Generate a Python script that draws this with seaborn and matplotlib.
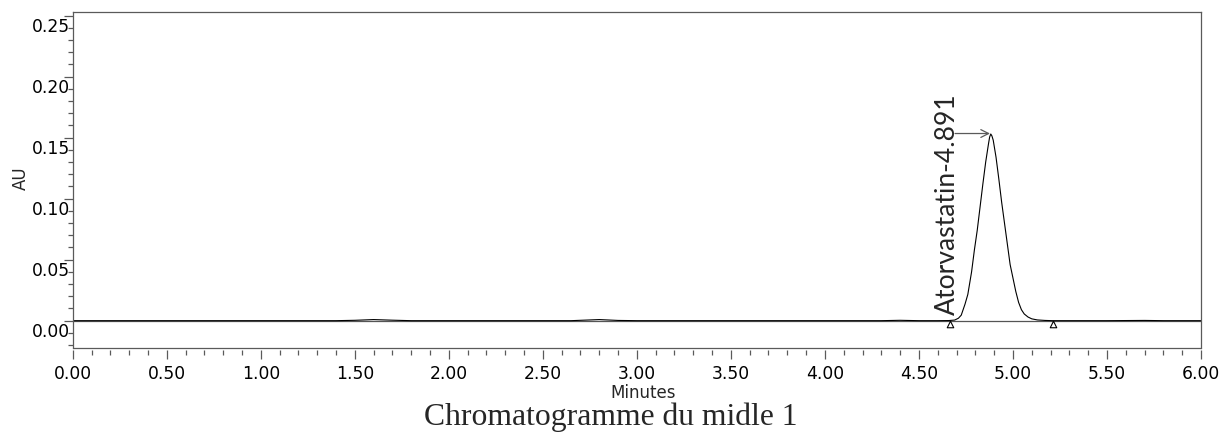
import numpy as np
import pandas as pd
import matplotlib
matplotlib.use("Agg")
import matplotlib.pyplot as plt
import matplotlib.transforms as mtransforms
from matplotlib.ticker import MultipleLocator, FormatStrFormatter
import seaborn as sns

# ---------------- data ----------------
time_min = [0.00, 1.40, 1.50, 1.60, 1.70, 1.80, 2.65, 2.75, 2.80, 2.90, 3.00,
            4.30, 4.40, 4.50, 4.60, 4.66, 4.69, 4.71, 4.725, 4.745, 4.76, 4.78,
            4.795, 4.81, 4.825, 4.84, 4.855, 4.87, 4.876, 4.882, 4.888, 4.895,
            4.91, 4.925, 4.94, 4.955, 4.97, 4.985, 5.00, 5.015, 5.03, 5.045,
            5.06, 5.08, 5.10, 5.13, 5.17, 5.21, 5.50, 5.70, 5.80, 5.90, 6.00]
absorbance = [0.0000, 0.0000, 0.0003, 0.0009, 0.0004, 0.0000, 0.0000, 0.0006,
              0.0009, 0.0002, 0.0000, 0.0000, 0.0003, 0.0000, 0.0000, 0.0001,
              0.0005, 0.0020, 0.0045, 0.0135, 0.0215, 0.0400, 0.0580, 0.0740,
              0.0930, 0.1120, 0.1300, 0.1450, 0.1505, 0.1530, 0.1515, 0.1480,
              0.1340, 0.1160, 0.0970, 0.0800, 0.0630, 0.0460, 0.0350, 0.0240,
              0.0150, 0.0090, 0.0055, 0.0030, 0.0015, 0.0006, 0.0002, 0.0000,
              0.0000, 0.0002, 0.0000, 0.0000, 0.0000]

peak_name = "Atorvastatin"
peak_rt = 4.891
peak_height = 0.1534
peak_start_end_min = [4.665, 5.215]
peak_start_end_au = [-0.0027, -0.0027]

x_label = "Minutes"
y_label = "AU"
title = "Chromatogramme du midle 1"

df = pd.DataFrame({"t": time_min, "au": absorbance})
marks = pd.DataFrame({"t": peak_start_end_min, "au": peak_start_end_au})

# ---------------- figure ----------------
sns.set_style("white")
plt.rcParams["font.family"] = ["DejaVu Sans"]
W, H, DPI = 1226, 433, 100
fig = plt.figure(figsize=(W / DPI, H / DPI), dpi=DPI)
ax = fig.add_axes([72.7 / W, 1 - 348 / H, (1201 - 72.7) / W, (348 - 12) / H])

frame_col = "#5a5a5a"
ax.axhline(0, color="#555555", lw=0.9, zorder=1)
sns.lineplot(data=df, x="t", y="au", color="black", lw=0.8, ax=ax, zorder=2)
sns.scatterplot(data=marks, x="t", y="au", marker="^", s=22, facecolor="white",
                edgecolor="black", linewidth=0.8, ax=ax, zorder=3, clip_on=False)

ax.set_xlim(0, 6)
ax.set_ylim(-0.0224, 0.253)

# ticks
ax.xaxis.set_major_locator(MultipleLocator(0.5))
ax.xaxis.set_minor_locator(MultipleLocator(0.1))
ax.yaxis.set_major_locator(MultipleLocator(0.05))
ax.yaxis.set_minor_locator(MultipleLocator(0.01))
ax.xaxis.set_major_formatter(FormatStrFormatter("%.2f"))
ax.yaxis.set_major_formatter(FormatStrFormatter("%.2f"))
ax.tick_params(axis="both", which="both", direction="out", color=frame_col,
               width=0.9, labelsize=12.3, labelcolor="black",
               bottom=True, left=True, top=False, right=False)
ax.tick_params(axis="x", which="major", length=6.7, pad=4.3)
ax.tick_params(axis="x", which="minor", length=3.6)
ax.tick_params(axis="y", which="major", length=6.5, pad=-4.5)
ax.tick_params(axis="y", which="minor", length=3.6)

for s in ["top", "right", "left"]:
    ax.spines[s].set_color(frame_col)
    ax.spines[s].set_linewidth(0.9)
ax.spines["bottom"].set_position(("outward", 1.5))
ax.spines["bottom"].set_color("none")
ax.plot([0, 1], [0, 0], transform=ax.transAxes, color=frame_col, lw=0.9,
        clip_on=False, zorder=5)

ax.set_xlabel(x_label, fontsize=12)
ax.set_ylabel(y_label, fontsize=12)
ax.xaxis.set_label_coords((643 - 72.7) / (1201 - 72.7), (348 - 393.5) / 336)
ax.xaxis.label.set_va("center")
ax.yaxis.set_label_coords((21 - 72.7) / (1201 - 72.7), (348 - 178) / 336)
ax.yaxis.label.set_va("center")

# peak annotation
ax.annotate("", xy=(4.878, peak_height), xytext=(4.692, peak_height),
            arrowprops=dict(arrowstyle="->", color=frame_col, lw=0.9,
                            shrinkA=0, shrinkB=0, mutation_scale=14))
lbl = ax.text(4.649, 0.0045, f"{peak_name}-{peak_rt:.3f}", rotation=90,
              ha="center", va="bottom", fontsize=20, family=["Lato", "DejaVu Sans"])

ttl = fig.text(611 / W, 1 - 425.5 / H, title, ha="center", va="baseline",
               fontsize=22, family=["Liberation Serif", "DejaVu Serif"])

# fit text extents to the reference sizes
fig.canvas.draw()
r = fig.canvas.get_renderer()
h = lbl.get_window_extent(r).height
lbl.set_fontsize(20 * 222 / h)
w = ttl.get_window_extent(r).width
ttl.set_fontsize(22 * 373 / w)
fig.canvas.draw()

# shift y tick labels downward like the reference
off = mtransforms.ScaledTranslation(0, -9 / DPI, fig.dpi_scale_trans)
for t in ax.yaxis.get_major_ticks():
    t.label1.set_transform(t.label1.get_transform() + off)

fig.savefig("out.png", dpi=DPI)
